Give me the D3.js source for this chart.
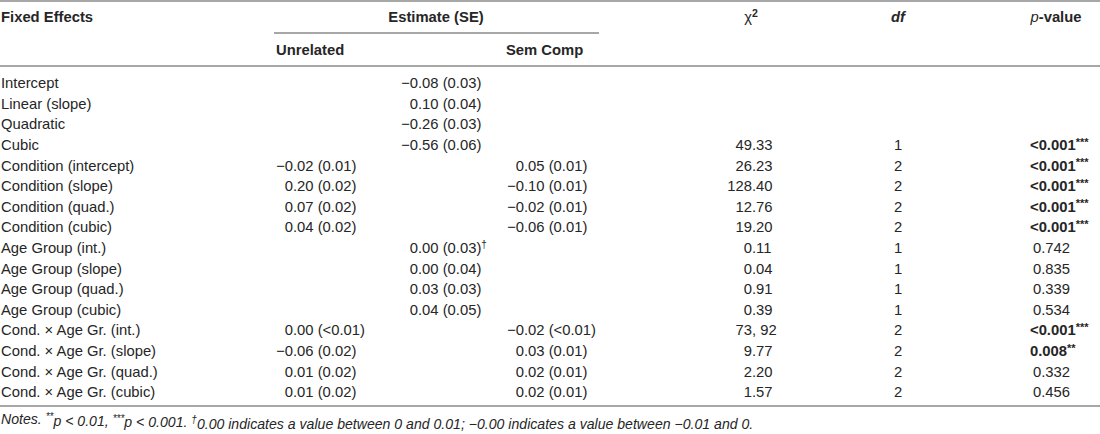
<!DOCTYPE html>
<html>
<head>
<meta charset="utf-8">
<script src="https://cdn.jsdelivr.net/npm/d3@7"></script>
<style>
  body { margin: 0; background: #fff; }
  svg text { font-family: "Liberation Sans", Arial, sans-serif; fill: #262626; }
</style>
</head>
<body>
<div id="table"></div>
<script>
/* DATA */
const effects = [
  "Intercept", "Linear (slope)", "Quadratic", "Cubic",
  "Condition (intercept)", "Condition (slope)", "Condition (quad.)", "Condition (cubic)",
  "Age Group (int.)", "Age Group (slope)", "Age Group (quad.)", "Age Group (cubic)",
  "Cond. \u00d7 Age Gr. (int.)", "Cond. \u00d7 Age Gr. (slope)", "Cond. \u00d7 Age Gr. (quad.)", "Cond. \u00d7 Age Gr. (cubic)"
];
const estUnrelated = ["", "", "", "",
  "\u22120.02 (0.01)", "0.20 (0.02)", "0.07 (0.02)", "0.04 (0.02)",
  "", "", "", "",
  "0.00 (<0.01)", "\u22120.06 (0.02)", "0.01 (0.02)", "0.01 (0.02)"];
const estPooled = ["\u22120.08 (0.03)", "0.10 (0.04)", "\u22120.26 (0.03)", "\u22120.56 (0.06)",
  "", "", "", "",
  "0.00 (0.03)", "0.00 (0.04)", "0.03 (0.03)", "0.04 (0.05)",
  "", "", "", ""];
const pooledMarks = ["", "", "", "", "", "", "", "", "\u2020", "", "", "", "", "", "", ""];
const estSemComp = ["", "", "", "",
  "0.05 (0.01)", "\u22120.10 (0.01)", "\u22120.02 (0.01)", "\u22120.06 (0.01)",
  "", "", "", "",
  "\u22120.02 (<0.01)", "0.03 (0.01)", "0.02 (0.01)", "0.02 (0.01)"];
const chiSq = ["", "", "", "49.33", "26.23", "128.40", "12.76", "19.20",
  "0.11", "0.04", "0.91", "0.39", "73, 92", "9.77", "2.20", "1.57"];
const dfs = ["", "", "", "1", "2", "2", "2", "2", "1", "1", "1", "1", "2", "2", "2", "2"];
const pValues = ["", "", "", "<0.001", "<0.001", "<0.001", "<0.001", "<0.001",
  "0.742", "0.835", "0.339", "0.534", "<0.001", "0.008", "0.332", "0.456"];
const pStars = ["", "", "", "***", "***", "***", "***", "***",
  "", "", "", "", "***", "**", "", ""];

/* LAYOUT */
const width = 1100, height = 434;
const fontSize = 14.8;
const lineColor = "#8a8a8a";
// decimal point positions / anchors of each column
const col = {
  label: 1,
  unrelated: 293,
  pooled: 418,
  semComp: 524,
  chi: 752,
  df: 898,
  p: 1030
};

const svg = d3.select("#table").append("svg")
  .attr("width", width)
  .attr("height", height);

const y = d3.scalePoint()
  .domain(d3.range(effects.length))
  .range([83, 392]);

/* HELPERS */
function hline(x1, x2, yy) {
  svg.append("line")
    .attr("x1", x1).attr("x2", x2)
    .attr("y1", yy).attr("y2", yy)
    .attr("stroke", lineColor)
    .attr("stroke-width", 1.6);
}

// write a value aligned on its decimal separator
function decimalColumn(values, x, marks) {
  const g = svg.append("g");
  const rows = values.map((v, i) => ({ v, i })).filter(d => d.v !== "");
  rows.forEach(d => {
    const k = d.v.search(/[.,]/);
    g.append("text")
      .attr("x", x).attr("y", y(d.i))
      .attr("dy", "0.35em")
      .attr("text-anchor", "end")
      .style("font-size", fontSize + "px")
      .text(d.v.slice(0, k));
    const t = g.append("text")
      .attr("x", x).attr("y", y(d.i))
      .attr("dy", "0.35em")
      .style("font-size", fontSize + "px")
      .text(d.v.slice(k));
    if (marks && marks[d.i]) {
      t.append("tspan")
        .attr("dy", "-0.45em")
        .style("font-size", "10px")
        .text(marks[d.i]);
    }
  });
}

/* RULES */
hline(0, width, 1);
hline(274, 599, 33);
hline(0, width, 66);
hline(0, width, 406);

/* HEADER */
const head = svg.append("g").style("font-size", fontSize + "px").style("font-weight", "bold");
head.append("text").attr("x", col.label).attr("y", 17).attr("dy", "0.35em").text("Fixed Effects");
head.append("text").attr("x", 436).attr("y", 17).attr("dy", "0.35em")
  .attr("text-anchor", "middle").text("Estimate (SE)");
head.append("text").attr("x", 276).attr("y", 50).attr("dy", "0.35em").text("Unrelated");
head.append("text").attr("x", 506).attr("y", 50).attr("dy", "0.35em").text("Sem Comp");

const chiHead = head.append("text").attr("x", 751).attr("y", 17).attr("dy", "0.35em")
  .attr("text-anchor", "middle");
chiHead.append("tspan").style("font-weight", "normal").text("\u03c7");
chiHead.append("tspan").attr("dy", "-0.45em").style("font-size", "10.5px").text("2");

head.append("text").attr("x", col.df).attr("y", 17).attr("dy", "0.35em")
  .attr("text-anchor", "middle").style("font-style", "italic").text("df");

const pHead = head.append("text").attr("x", 1056).attr("y", 17).attr("dy", "0.35em")
  .attr("text-anchor", "middle");
pHead.append("tspan").style("font-style", "italic").style("font-weight", "normal").text("p");
pHead.append("tspan").text("-value");

/* BODY */
svg.append("g")
  .selectAll("text")
  .data(effects)
  .join("text")
  .attr("x", col.label)
  .attr("y", (d, i) => y(i))
  .attr("dy", "0.35em")
  .style("font-size", fontSize + "px")
  .text(d => d);

decimalColumn(estUnrelated, col.unrelated);
decimalColumn(estPooled, col.pooled, pooledMarks);
decimalColumn(estSemComp, col.semComp);
decimalColumn(chiSq, col.chi);

svg.append("g")
  .selectAll("text")
  .data(dfs)
  .join("text")
  .attr("x", col.df)
  .attr("y", (d, i) => y(i))
  .attr("dy", "0.35em")
  .attr("text-anchor", "middle")
  .style("font-size", fontSize + "px")
  .text(d => d);

const pText = svg.append("g")
  .selectAll("text")
  .data(pValues)
  .join("text")
  .attr("x", (d, i) => pStars[i] ? col.p : col.p + 3)
  .attr("y", (d, i) => y(i))
  .attr("dy", "0.35em")
  .style("font-size", fontSize + "px")
  .style("font-weight", (d, i) => pStars[i] ? "bold" : "normal");
pText.append("tspan").text(d => d);
pText.append("tspan")
  .attr("dy", "-0.4em")
  .style("font-size", "11px")
  .text((d, i) => pStars[i]);

/* NOTES */
const notes = svg.append("text")
  .attr("x", col.label)
  .attr("y", 419)
  .attr("dy", "0.35em")
  .style("font-size", "14.1px")
  .style("font-style", "italic");
const noteParts = [
  ["Notes. ", false], ["**", true], ["p < 0.01, ", false], ["***", true],
  ["p < 0.001. ", false], ["\u2020", true],
  ["0.00 indicates a value between 0 and 0.01; \u22120.00 indicates a value between \u22120.01 and 0.", false]
];
noteParts.forEach(([txt, sup], i) => {
  const prevSup = i > 0 && noteParts[i - 1][1];
  notes.append("tspan")
    .attr("dy", sup ? "-0.4em" : (prevSup ? "0.4em" : null))
    .style("font-size", sup ? "10px" : null)
    .text(txt);
});
</script>
</body>
</html>
